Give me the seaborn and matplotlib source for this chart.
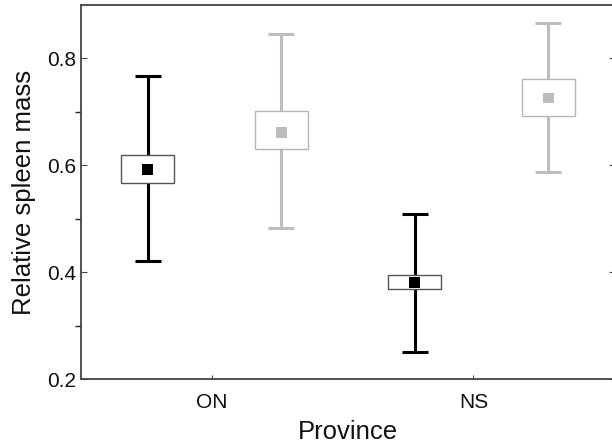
import numpy as np
import pandas as pd
import seaborn as sns
import matplotlib.pyplot as plt
from matplotlib.patches import Rectangle

# values (mean, +/-SE box, +/-CI whiskers)
provinces = ["ON", "NS"]
groups = ["A", "B"]
group_colors = {"A": "#000000", "B": "#bdbdbd"}
box_edges = {"A": "#555555", "B": "#b5b5b5"}

mean_vals = [0.592, 0.662, 0.380, 0.726]
box_low = [0.566, 0.630, 0.368, 0.693]
box_high = [0.620, 0.701, 0.395, 0.762]
whisk_low = [0.421, 0.483, 0.251, 0.587]
whisk_high = [0.767, 0.846, 0.509, 0.867]

df = pd.DataFrame({
    "province": np.repeat(provinces, 2),
    "group": groups * 2,
    "mean": mean_vals,
    "box_low": box_low,
    "box_high": box_high,
    "lo": whisk_low,
    "hi": whisk_high,
})
df["pos"] = np.arange(len(df))
tick_pos = [0.48, 2.44]

sns.set_theme(style="ticks")
plt.rcParams["font.family"] = ["Liberation Sans", "DejaVu Sans"]
plt.rcParams["text.color"] = "#111111"
plt.rcParams["axes.labelcolor"] = "#111111"
plt.rcParams["xtick.labelcolor"] = "#111111"
plt.rcParams["ytick.labelcolor"] = "#111111"

fig = plt.figure(figsize=(6.12, 4.48), dpi=100)
ax = fig.add_axes([81 / 612, 69 / 448, (615 - 81) / 612, (443 - 69) / 448])

half_box = 0.2
half_cap = 0.097
for _, r in df.iterrows():
    c = group_colors[r["group"]]
    ax.vlines(r["pos"], r["lo"], r["hi"], color=c, lw=2.2, zorder=1)
    ax.hlines([r["lo"], r["hi"]], r["pos"] - half_cap, r["pos"] + half_cap,
              color=c, lw=2.2, zorder=1)
    ax.add_patch(Rectangle((r["pos"] - half_box, r["box_low"]), 2 * half_box,
                           r["box_high"] - r["box_low"], facecolor="white",
                           edgecolor=box_edges[r["group"]], lw=1.0, zorder=2))

sns.scatterplot(data=df, x="pos", y="mean", hue="group", palette=group_colors,
                marker="s", s=60, edgecolor="none", legend=False, zorder=3, ax=ax)

ax.set_xlim(-0.5, 3.5)
ax.set_ylim(0.2, 0.9)
ax.set_xticks(tick_pos)
ax.set_xticklabels(provinces)
ax.set_yticks([0.2, 0.4, 0.6, 0.8])
ax.set_yticks([0.3, 0.5, 0.7], minor=True)
ax.tick_params(axis="both", direction="in", labelsize=15, color="#444444", width=0.8)
ax.tick_params(axis="y", which="both", length=4, right=True)
ax.tick_params(axis="x", length=3, pad=10)
ax.set_xlabel("Province", fontsize=18.5, labelpad=6)
ax.set_ylabel("Relative spleen mass", fontsize=18.5, labelpad=8)
for s in ax.spines.values():
    s.set_color("#444444")
    s.set_linewidth(1.3)

fig.savefig("out.png", dpi=100)
